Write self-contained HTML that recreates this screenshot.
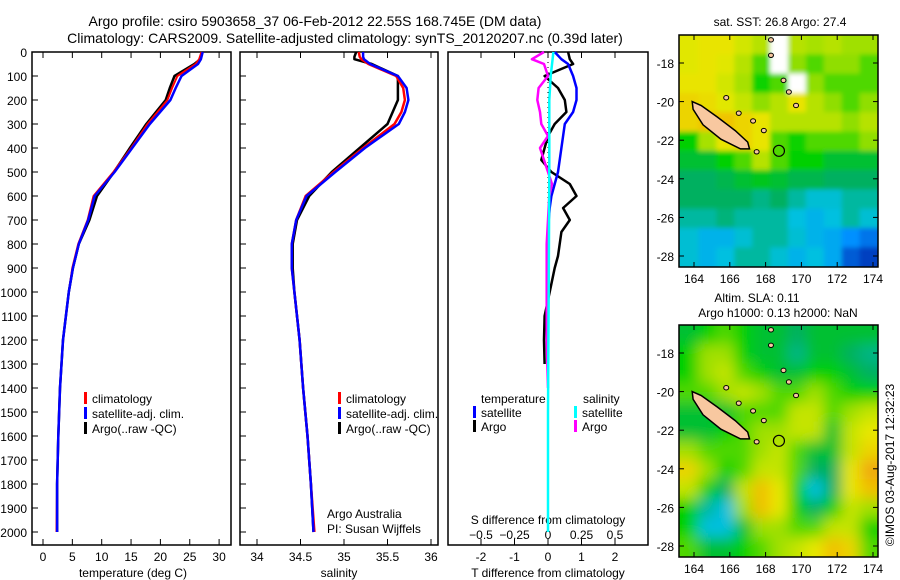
<!DOCTYPE html>
<html><head><meta charset="utf-8"><style>
body{margin:0;background:#fff;}
svg{display:block;font-family:"Liberation Sans",sans-serif;}
text{fill:#000;}
</style></head><body>
<svg id="fig" width="900" height="580" viewBox="0 0 900 580" xmlns="http://www.w3.org/2000/svg">
<g id="root"></g>
</svg>
<script>
// ---- data ----
const tDepth = [0,30,50,100,150,200,300,400,500,600,700,800,900,1000,1200,1400,1600,1800,2000];
const tClim  = [27.0,26.6,26.0,22.9,22.0,21.2,17.8,15.0,12.0,8.6,7.6,6.0,5.0,4.4,3.4,2.9,2.6,2.4,2.3];
const tSat   = [27.2,26.9,26.4,23.6,22.6,21.7,18.2,15.2,12.2,8.8,7.7,6.1,5.1,4.4,3.4,2.9,2.6,2.4,2.4];
const tArgo  = [27.1,26.8,25.8,22.4,21.6,20.9,17.6,14.8,12.1,9.2,7.9,6.1,5.1,4.4,3.4,2.9,2.6,2.4,2.4];
const sDepth = [0,20,30,50,100,150,200,250,300,400,500,600,700,800,900,1000,1100,1200,1400,1600,1800,2000];
const sClim  = [35.17,35.18,35.2,35.28,35.6,35.68,35.7,35.66,35.58,35.22,34.88,34.56,34.45,34.4,34.4,34.43,34.46,34.49,34.53,34.58,34.62,34.66];
const sSat   = [35.22,35.22,35.23,35.3,35.62,35.72,35.74,35.7,35.63,35.24,34.9,34.57,34.45,34.4,34.4,34.43,34.46,34.49,34.53,34.58,34.62,34.65];
const sArgo  = [35.14,35.12,35.12,35.32,35.62,35.62,35.62,35.56,35.5,35.18,34.86,34.6,34.46,34.41,34.41,34.43,34.46,34.49,34.53,34.58,34.62,34.65];
const dDepth = [0,30,50,100,150,200,250,300,350,400,450,500,550,600,650,700,750,800,850,900,1000,1100,1200,1300];
const dTArgo = [0.6,0.65,0.75,-0.1,0.3,0.5,0.55,0.2,0.0,-0.1,-0.2,0.1,0.65,0.85,0.45,0.65,0.4,0.35,0.3,0.2,0.05,-0.1,-0.12,-0.1];
const dTSat  = [0.2,0.4,0.6,0.75,0.85,0.85,0.75,0.5,0.45,0.4,0.35,0.3,0.2,0.1,0.05,0.02,0.0,0.0,0.0,0.0,0.0,0.0,0.0,0.0];
const dSDepth= [0,30,50,100,150,200,250,300,350,400,450,500,550,600,700,800,1000,1200,1400];
const dSArgo = [-0.03,-0.12,-0.03,0.0,-0.07,-0.08,-0.06,-0.05,0.0,-0.06,-0.03,0.0,0.03,0.01,0.0,-0.01,-0.01,-0.01,0.0];
const dSSatDepth=[0,100,200,500,1000,1500,2000];
const dSSat  = [0.04,0.02,0.01,0.01,0.005,0.0,0.0];
const depthTicks=[0,100,200,300,400,500,600,700,800,900,1000,1100,1200,1300,1400,1500,1600,1700,1800,1900,2000];
const tTicks=[0,5,10,15,20,25,30];
const sTicks=[34,34.5,35,35.5,36];
const dTTicks=[-2,-1,0,1,2];
const dSTicks=[-0.5,-0.25,0,0.25,0.5];
const lonTicks=[164,166,168,170,172,174];
const latTicks=[-18,-20,-22,-24,-26,-28];
// SST grid (rows from -16.55 lat, 1 deg; cols from 163.25 lon); -1 = missing (white)
const sstGrid=[
[0.74,0.76,0.76,0.72,0.68,-1,0.68,0.66,0.68,0.65,0.65],
[0.74,0.76,0.74,0.68,0.6,-1,0.64,0.6,0.64,0.64,0.6],
[0.76,0.76,0.72,0.66,0.56,0.6,-1,0.64,0.6,0.6,0.6],
[0.8,0.78,0.74,0.7,0.64,0.68,0.76,0.68,0.64,0.6,0.64],
[0.8,0.84,0.84,0.8,0.76,0.68,0.68,0.68,0.68,0.64,0.68],
[0.55,0.66,0.76,0.8,0.76,0.6,0.56,0.6,0.6,0.6,0.64],
[0.5,0.5,0.55,0.6,0.68,0.6,0.55,0.55,0.5,0.5,0.5],
[0.45,0.45,0.47,0.5,0.52,0.5,0.47,0.47,0.45,0.45,0.45],
[0.45,0.45,0.45,0.45,0.42,0.45,0.4,0.36,0.36,0.4,0.4],
[0.4,0.4,0.43,0.4,0.4,0.4,0.35,0.32,0.35,0.4,0.36],
[0.36,0.32,0.32,0.36,0.4,0.4,0.36,0.32,0.3,0.25,0.2],
[0.36,0.32,0.35,0.4,0.4,0.36,0.32,0.35,0.3,0.15,0.1]];
const slaGrid=[
[0.5,0.55,0.6,0.55,0.5,0.5,0.45,0.5,0.5,0.5,0.5],
[0.55,0.65,0.65,0.55,0.5,0.5,0.42,0.5,0.5,0.45,0.42],
[0.55,0.65,0.7,0.6,0.55,0.5,0.5,0.55,0.55,0.5,0.45],
[0.6,0.6,0.65,0.7,0.65,0.6,0.6,0.65,0.6,0.55,0.55],
[0.5,0.5,0.5,0.6,0.6,0.6,0.7,0.7,0.6,0.65,0.7],
[0.5,0.5,0.55,0.6,0.65,0.65,0.7,0.7,0.5,0.7,0.75],
[0.65,0.6,0.6,0.6,0.65,0.7,0.6,0.5,0.5,0.7,0.8],
[0.8,0.65,0.55,0.6,0.7,0.7,0.6,0.45,0.45,0.75,0.9],
[0.7,0.55,0.45,0.7,0.85,0.75,0.55,0.35,0.45,0.75,0.85],
[0.55,0.4,0.35,0.65,0.85,0.75,0.55,0.45,0.55,0.7,0.65],
[0.55,0.35,0.35,0.5,0.65,0.65,0.6,0.6,0.7,0.7,0.55],
[0.6,0.5,0.5,0.55,0.6,0.65,0.7,0.75,0.85,0.8,0.6]];
const ncLon=[163.9,164.4,165.3,166.3,167.0,167.1,166.6,165.5,164.5,163.95];
const ncLat=[-20.0,-20.2,-20.8,-21.5,-22.1,-22.45,-22.45,-21.95,-21.2,-20.4];
const floatPos=[168.745,-22.55];

// ---- drawing ----
const NS='http://www.w3.org/2000/svg';
const root=document.getElementById('root');
function mk(tag,attrs,parent){const e=document.createElementNS(NS,tag);for(const k in attrs)e.setAttribute(k,attrs[k]);(parent||root).appendChild(e);return e;}
function txt(x,y,s,size,anchor,name,parent){const t=mk('text',{x:x,y:y,'font-size':size,'text-anchor':anchor||'start'},parent);t.textContent=s;


return t;}
const Y0=52,Y1=545;
const yD=d=>52+d*0.24;
const xT=v=>43+v*5.87;
const xS=v=>257+(v-34)*87;
const xDT=v=>548+v*33.5;
const xDS=v=>548+v*134;

function frame(x0,x1,y0,y1,name){const r=mk('rect',{x:x0,y:y0,width:x1-x0,height:y1-y0,fill:'none',stroke:'#000','stroke-width':1.5});

}
function line(xs,ys,fx,color,name,w){let d='';for(let i=0;i<xs.length;i++){d+=(i?'L':'M')+fx(xs[i]).toFixed(1)+','+yD(ys[i]).toFixed(1);}
const p=mk('path',{d:d,fill:'none',stroke:color,'stroke-width':w||2.5,'stroke-linejoin':'round'});

}
function legend(x,y,color,label,name){const r=mk('rect',{x:x,y:y-11,width:3,height:12,fill:color});


txt(x+8,y,label,12,'start',name);}

// titles
txt(315,26,'Argo profile: csiro 5903658_37 06-Feb-2012 22.55S 168.745E (DM data)',14,'middle','title-line-1');
txt(345,43,'Climatology: CARS2009. Satellite-adjusted climatology: synTS_20120207.nc (0.39d later)',14,'middle','title-line-2');

// panel 1
frame(32,231,Y0,Y1,'temperature-panel-frame');
depthTicks.forEach(d=>{mk('line',{x1:32,x2:38,y1:yD(d),y2:yD(d),stroke:'#000'});txt(27,yD(d)+5,String(d),12,'end','depth-tick-label');});
tTicks.forEach(v=>{mk('line',{x1:xT(v),x2:xT(v),y1:Y0,y2:Y0+6,stroke:'#000'});mk('line',{x1:xT(v),x2:xT(v),y1:Y1,y2:Y1-6,stroke:'#000'});txt(xT(v),561,String(v),12,'middle','temperature-tick-label');});
txt(133,577,'temperature (deg C)',12,'middle','temperature-axis-title');
line(tArgo,tDepth,xT,'#000000','temperature-argo-line');
line(tClim,tDepth,xT,'#ff0000','temperature-climatology-line',2);
line(tSat,tDepth,xT,'#0000ff','temperature-satellite-line');
legend(84,403,'#ff0000','climatology','legend-climatology');
legend(84,418,'#0000ff','satellite-adj. clim.','legend-satellite');
legend(84,433,'#000000','Argo(..raw -QC)','legend-argo');

// panel 2
frame(240,438,Y0,Y1,'salinity-panel-frame');
sTicks.forEach(v=>{mk('line',{x1:xS(v),x2:xS(v),y1:Y0,y2:Y0+6,stroke:'#000'});mk('line',{x1:xS(v),x2:xS(v),y1:Y1,y2:Y1-6,stroke:'#000'});txt(xS(v),561,String(v),12,'middle','salinity-tick-label');});
depthTicks.forEach(d=>{mk('line',{x1:240,x2:246,y1:yD(d),y2:yD(d),stroke:'#000'});});
txt(339,577,'salinity',12,'middle','salinity-axis-title');
line(sArgo,sDepth,xS,'#000000','salinity-argo-line');
line(sClim,sDepth,xS,'#ff0000','salinity-climatology-line');
line(sSat,sDepth,xS,'#0000ff','salinity-satellite-line');
legend(338,403,'#ff0000','climatology','legend-climatology-2');
legend(338,418,'#0000ff','satellite-adj. clim.','legend-satellite-2');
legend(338,433,'#000000','Argo(..raw -QC)','legend-argo-2');
txt(327,518,'Argo Australia',12,'start','argo-australia-label');
txt(327,533,'PI: Susan Wijffels',12,'start','pi-label');

// panel 3
frame(448,648,Y0,Y1,'difference-panel-frame');
dTTicks.forEach(v=>{mk('line',{x1:xDT(v),x2:xDT(v),y1:Y0,y2:Y0+6,stroke:'#000'});mk('line',{x1:xDT(v),x2:xDT(v),y1:Y1,y2:Y1-6,stroke:'#000'});txt(xDT(v),561,String(v),12,'middle','t-diff-tick-label');});
dSTicks.forEach(v=>{txt(xDS(v),539,String(v).replace('-','\u2212'),12,'middle','s-diff-tick-label');});
txt(548,524,'S difference from climatology',12,'middle','s-diff-axis-title');
txt(548,577,'T difference from climatology',12,'middle','t-diff-axis-title');
mk('line',{x1:548,x2:548,y1:Y0,y2:yD(2000),stroke:'#000','stroke-dasharray':'1,4'});
line(dTArgo,dDepth,xDT,'#000000','t-diff-argo-line');
line(dTSat,dDepth,xDT,'#0000ff','t-diff-satellite-line');
line(dSArgo,dSDepth,xDS,'#ff00ff','s-diff-argo-line');
line(dSSat,dSSatDepth,xDS,'#00ffff','s-diff-satellite-line');
txt(481,403,'temperature',12,'start','legend-temperature-heading');
txt(583,403,'salinity',12,'start','legend-salinity-heading');
legend(473,417,'#0000ff','satellite','legend-t-satellite');
legend(473,431,'#000000','Argo','legend-t-argo');
legend(574,417,'#00ffff','satellite','legend-s-satellite');
legend(574,431,'#ff00ff','Argo','legend-s-argo');

// maps
const stops=[[0.1,[0,64,192]],[0.25,[0,144,255]],[0.35,[0,192,224]],[0.45,[0,176,96]],[0.55,[0,208,0]],[0.65,[160,224,0]],[0.75,[232,232,0]],[0.85,[240,192,0]],[0.95,[240,144,32]]];
function cmap(v){if(v<0)return '#ffffff';if(v<=stops[0][0])return 'rgb('+stops[0][1]+')';for(let i=1;i<stops.length;i++){if(v<=stops[i][0]){const a=stops[i-1],b=stops[i],t=(v-a[0])/(b[0]-a[0]);return 'rgb('+a[1].map((c,j)=>Math.round(c+(b[1][j]-c)*t)).join(',')+')';}}return 'rgb('+stops[stops.length-1][1]+')';}
function drawMap(top,grid,name,blur,titles){
  const x0=679,x1=878,y0=top,y1=top+232;
  const mx=lon=>694+(lon-164)*17.9, my=lat=>top+28+(-18-lat)*19.3;
  const clipId='clip-'+name;
  const cp=mk('clipPath',{id:clipId});mk('rect',{x:x0,y:y0,width:x1-x0,height:y1-y0},cp);
  const f=mk('filter',{id:'blur-'+name,x:'-10%',y:'-10%',width:'120%',height:'120%'});mk('feGaussianBlur',{stdDeviation:blur},f);
  const g=mk('g',{'clip-path':'url(#'+clipId+')'});
  
  
  const gi=mk('g',{filter:'url(#blur-'+name+')'},g);
  grid.forEach((row,r)=>row.forEach((v,c)=>{
    const lonL=163.25+c, latT=-16.55-r;
    const x=mx(lonL)-(c===0?20:0), y=my(latT)-(r===0?20:0);
    const w=mx(lonL+1)-x+(c===row.length-1?20:0)+0.5, h=my(latT-1)-y+(r===grid.length-1?20:0)+0.5;
    const cell=mk('rect',{x:x,y:y,width:w,height:h,fill:cmap(v)},gi);
    
    
  }));
  let d='';ncLon.forEach((lo,i)=>{d+=(i?'L':'M')+mx(lo).toFixed(1)+','+my(ncLat[i]).toFixed(1);});
  const isl=mk('path',{d:d+'Z',fill:'#f8c8a0',stroke:'#000','stroke-width':1.5},g);
  
  
  [[165.8,-19.8],[166.5,-20.6],[167.3,-21.0],[167.9,-21.5],[168.3,-17.6],[169.0,-18.9],[169.3,-19.5],[169.7,-20.2],[168.3,-16.8],[167.5,-22.6]].forEach(p=>{
    const e=mk('ellipse',{cx:mx(p[0]),cy:my(p[1]),rx:2.5,ry:2.2,fill:'#f8c8a0',stroke:'#000','stroke-width':1},g);
    
    
  });
  const c=mk('circle',{cx:mx(floatPos[0]),cy:my(floatPos[1]),r:5.5,fill:'none',stroke:'#000','stroke-width':1.2});
  
  
  frame(x0,x1,y0,y1,name+'-frame');
  lonTicks.forEach(v=>{mk('line',{x1:mx(v),x2:mx(v),y1:y0,y2:y0+5,stroke:'#000'});mk('line',{x1:mx(v),x2:mx(v),y1:y1,y2:y1-5,stroke:'#000'});txt(mx(v),y1+16,String(v),12,'middle',name+'-lon-label');});
  latTicks.forEach(v=>{mk('line',{x1:x0,x2:x0+5,y1:my(v),y2:my(v),stroke:'#000'});mk('line',{x1:x1,x2:x1-5,y1:my(v),y2:my(v),stroke:'#000'});txt(x0-5,my(v)+5,String(v),12,'end',name+'-lat-label');});
  titles.forEach((t,i)=>txt(t[1],t[2],t[0],12,'middle',name+'-title-'+(i+1)));
}
drawMap(35,sstGrid,'sst-map',2.5,[['sat. SST: 26.8  Argo: 27.4',780,26]]);
drawMap(325,slaGrid,'sla-map',7,[['Altim. SLA: 0.11',757,302],['Argo h1000: 0.13 h2000: NaN',778,317]]);
const tv=txt(0,0,'\u00a9IMOS 03-Aug-2017 12:32:23',12,'middle','timestamp-label');
tv.setAttribute('transform','translate(894,465) rotate(-90)');
</script>
</body></html>
